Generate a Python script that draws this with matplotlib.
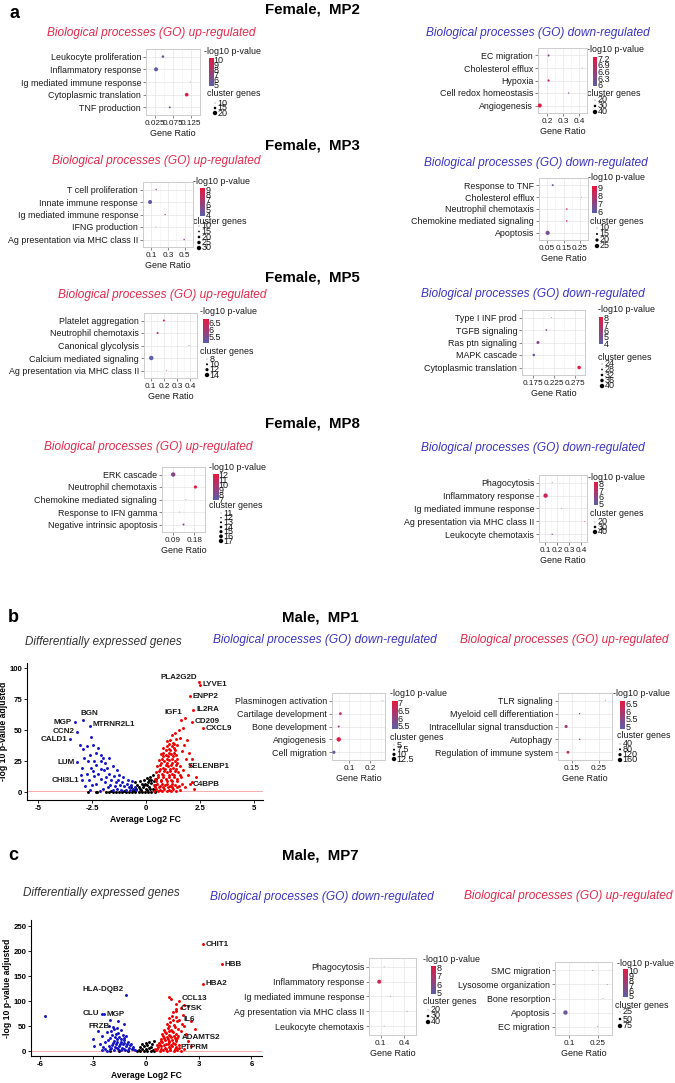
import numpy as np
import matplotlib
matplotlib.use("Agg")
import matplotlib.pyplot as plt
from matplotlib.colors import LinearSegmentedColormap

W, H = 675, 1083
RED_T = "#E3294B"
BLUE_T = "#3A33C2"
CMAP = LinearSegmentedColormap.from_list("pv", ["#5A5FAA", "#E8183F"])

# ---------------- dot plot data (GO enrichment) ----------------
MP2_UP_TERMS = ["Leukocyte proliferation", "Inflammatory response", "Ig mediated immune response",
                "Cytoplasmic translation", "TNF production"]
MP2_UP_RATIO = [0.047, 0.028, 0.123, 0.113, 0.066]
MP2_UP_LOGP = [5.6, 5.0, 6.5, 10.0, 6.0]
MP2_UP_GENES = [15, 19, 10, 18, 13]

MP2_DN_TERMS = ["EC migration", "Cholesterol efflux", "Hypoxia", "Cell redox homeostasis", "Angiogenesis"]
MP2_DN_RATIO = [0.21, 0.42, 0.21, 0.335, 0.155]
MP2_DN_LOGP = [6.3, 6.1, 7.0, 6.3, 7.2]
MP2_DN_GENES = [27, 20, 28, 23, 38]

MP3_UP_TERMS = ["T cell proliferation", "Innate immune response", "Ig mediated immune response",
                "IFNG production", "Ag presentation via MHC class II"]
MP3_UP_RATIO = [0.158, 0.085, 0.266, 0.154, 0.494]
MP3_UP_LOGP = [5.5, 4.2, 8.5, 5.0, 5.5]
MP3_UP_GENES = [14, 28, 13, 10, 14]

MP3_DN_TERMS = ["Response to TNF", "Cholesterol efflux", "Neutrophil chemotaxis",
                "Chemokine mediated signaling", "Apoptosis"]
MP3_DN_RATIO = [0.084, 0.26, 0.17, 0.17, 0.053]
MP3_DN_LOGP = [6.3, 7.0, 9.0, 9.0, 6.5]
MP3_DN_GENES = [15, 10, 13, 13, 24]

MP5_UP_TERMS = ["Platelet aggregation", "Neutrophil chemotaxis", "Canonical glycolysis",
                "Calcium mediated signaling", "Ag presentation via MHC class II"]
MP5_UP_RATIO = [0.20, 0.153, 0.39, 0.105, 0.22]
MP5_UP_LOGP = [6.6, 6.1, 5.8, 5.1, 6.0]
MP5_UP_GENES = [10, 10, 8, 14, 8]

MP5_DN_TERMS = ["Type I INF prod", "TGFB signaling", "Ras ptn signaling", "MAPK cascade",
                "Cytoplasmic translation"]
MP5_DN_RATIO = [0.220, 0.208, 0.188, 0.178, 0.286]
MP5_DN_LOGP = [6.0, 5.5, 5.0, 4.3, 8.0]
MP5_DN_GENES = [24, 28, 34, 32, 36]

MP8_UP_TERMS = ["ERK cascade", "Neutrophil chemotaxis", "Chemokine mediated signaling",
                "Response to IFN gamma", "Negative intrinsic apoptosis"]
MP8_UP_RATIO = [0.092, 0.185, 0.145, 0.118, 0.135]
MP8_UP_LOGP = [8.5, 12.0, 9.0, 8.0, 8.5]
MP8_UP_GENES = [17, 15, 11, 11, 13]

MP8_DN_TERMS = ["Phagocytosis", "Inflammatory response", "Ig mediated immune response",
                "Ag presentation via MHC class II", "Leukocyte chemotaxis"]
MP8_DN_RATIO = [0.16, 0.105, 0.24, 0.43, 0.16]
MP8_DN_LOGP = [6.0, 7.5, 6.5, 8.0, 5.8]
MP8_DN_GENES = [20, 40, 20, 20, 23]

MP1_DN_TERMS = ["Plasminogen activation", "Cartilage development", "Bone development",
                "Angiogenesis", "Cell migration"]
MP1_DN_RATIO = [0.26, 0.058, 0.05, 0.05, 0.027]
MP1_DN_LOGP = [6.0, 6.8, 6.2, 7.0, 5.4]
MP1_DN_GENES = [5, 9, 7.5, 12.5, 10]

MP1_UP_TERMS = ["TLR signaling", "Myeloid cell differentiation", "Intracellular signal transduction",
                "Autophagy", "Regulation of immune system"]
MP1_UP_RATIO = [0.276, 0.18, 0.13, 0.18, 0.137]
MP1_UP_LOGP = [5.5, 6.0, 5.6, 6.5, 6.0]
MP1_UP_GENES = [40, 60, 120, 60, 110]

MP7_DN_TERMS = ["Phagocytosis", "Inflammatory response", "Ig mediated immune response",
                "Ag presentation via MHC class II", "Leukocyte chemotaxis"]
MP7_DN_RATIO = [0.143, 0.081, 0.224, 0.435, 0.143]
MP7_DN_LOGP = [5.5, 7.5, 6.0, 8.0, 5.5]
MP7_DN_GENES = [20, 38, 20, 20, 20]

MP7_UP_TERMS = ["SMC migration", "Lysosome organization", "Bone resorption", "Apoptosis", "EC migration"]
MP7_UP_RATIO = [0.223, 0.30, 0.277, 0.08, 0.25]
MP7_UP_LOGP = [6.0, 10.0, 6.0, 5.5, 6.0]
MP7_UP_GENES = [25, 25, 25, 75, 25]

# ---------------- volcano data ----------------
B_RED = [(0.35, 1), (0.45, 3), (0.55, 1), (0.65, 2), (0.75, 1), (0.85, 3), (0.95, 1), (1.05, 2),
         (1.15, 1), (1.25, 3), (1.4, 1), (1.55, 2), (0.38, 6), (0.5, 7), (0.62, 5), (0.74, 7),
         (0.86, 6), (0.98, 7), (1.1, 5), (1.22, 7), (1.35, 6), (1.5, 5), (1.65, 7), (0.42, 11),
         (0.55, 12), (0.67, 10), (0.8, 12), (0.92, 11), (1.04, 12), (1.16, 10), (1.28, 12),
         (1.42, 11), (1.6, 12), (0.48, 16), (0.6, 17), (0.72, 15), (0.85, 17), (0.97, 16),
         (1.09, 17), (1.21, 15), (1.33, 17), (1.48, 16), (0.52, 21), (0.65, 22), (0.78, 20),
         (0.9, 22), (1.02, 21), (1.14, 22), (1.26, 20), (1.38, 22), (1.55, 21), (0.6, 26),
         (0.72, 27), (0.84, 25), (0.96, 27), (1.08, 26), (1.2, 27), (1.32, 25), (1.45, 27),
         (0.68, 31), (0.8, 32), (0.92, 30), (1.04, 32), (1.16, 31), (1.28, 32), (1.4, 30),
         (0.8, 36), (0.95, 37), (1.07, 35), (1.19, 37), (1.31, 36), (1.45, 38), (0.98, 41),
         (1.12, 42), (1.25, 40), (1.38, 43), (1.2, 46), (1.35, 48), (1.5, 50), (1.6, 58),
         (1.7, 52), (1.55, 44), (1.75, 38), (1.9, 42), (2.0, 32), (1.85, 27), (2.05, 22),
         (1.7, 18), (1.95, 14), (2.1, 8), (1.8, 4), (2.2, 3), (1.65, 33), (2.3, 12),
         (0.4, 4), (0.6, 4), (0.8, 4), (1.0, 4), (1.2, 4), (1.45, 4), (0.45, 9), (0.7, 9),
         (0.95, 9), (1.2, 9), (1.45, 9), (0.55, 14), (0.8, 14), (1.05, 14), (1.3, 14), (1.55, 14),
         (0.62, 19), (0.88, 19), (1.12, 19), (1.4, 19), (0.7, 24), (0.95, 24), (1.2, 24),
         (1.42, 24), (0.78, 29), (1.0, 29), (1.25, 29), (0.9, 34), (1.12, 34), (1.35, 34),
         (1.05, 39), (1.3, 39),
         (2.45, 89), (2.5, 86.7), (2.03, 77.6), (2.18, 66.4), (1.8, 60), (2.12, 57),
         (2.64, 51.6), (2.12, 26.8), (2.04, 6.7)]
B_BLUE = [(-3.05, 38), (-2.9, 35), (-2.75, 37), (-2.6, 30), (-2.45, 38), (-2.3, 32), (-2.2, 36),
          (-2.1, 30), (-2.55, 45), (-2.4, 25), (-2.7, 25), (-2.85, 28), (-2.95, 20), (-2.55, 20),
          (-2.3, 22), (-2.1, 25), (-2.0, 28), (-1.9, 24), (-1.8, 20), (-1.95, 18), (-2.2, 15),
          (-2.4, 13), (-2.65, 10), (-2.8, 5), (-2.5, 6), (-2.3, 7), (-2.1, 11), (-1.85, 12),
          (-1.7, 15), (-1.6, 10), (-1.5, 13), (-1.4, 8), (-1.3, 10), (-1.2, 6), (-1.1, 8),
          (-1.0, 5), (-0.9, 7), (-0.8, 4), (-0.7, 6), (-0.6, 3), (-0.5, 4), (-0.45, 1.5),
          (-1.75, 4), (-1.55, 2), (-1.35, 3), (-1.15, 1.5), (-0.95, 2), (-0.75, 1.5), (-2.0, 3),
          (-2.15, 1), (-1.65, 6), (-1.45, 5), (-2.6, 2), (-1.9, 8), (-2.45, 17), (-2.75, 15),
          (-3.0, 14), (-2.1, 19), (-1.7, 28), (-1.55, 21), (-1.35, 18), (-1.25, 14), (-1.05, 12),
          (-0.85, 10), (-0.65, 9),
          (-2.92, 58.3), (-2.58, 53.5), (-3.3, 56.4), (-3.2, 48.9), (-3.53, 42.7), (-3.17, 24.2),
          (-2.97, 9.9)]
B_NS = [(-2.7, 0.3), (-2.3, 0.5), (-2.25, 0.2), (-1.85, 0.3), (-1.7, 0.5), (-1.55, 0.2),
        (-1.4, 0.6), (-1.25, 0.3), (-1.1, 0.5), (-0.95, 0.2), (-0.8, 0.6), (-0.65, 0.3),
        (-0.5, 0.5), (-0.35, 0.2), (-0.2, 0.6), (-0.05, 0.3), (0.1, 0.5), (0.25, 0.2), (0.4, 0.4),
        (-0.6, 2), (-0.45, 3), (-0.3, 2.5), (-0.15, 4), (0, 3), (0.15, 4.5), (0.3, 3), (-0.4, 5.5),
        (-0.2, 6.5), (-0.05, 7), (0.1, 8), (0.25, 7.5), (0.35, 9), (-0.3, 9), (-0.1, 10),
        (0.05, 11.5), (0.2, 12), (0.3, 14), (0.15, 10), (-0.5, 8), (0.4, 6), (-0.7, 4), (0.45, 11),
        (-0.55, 1.5), (-0.25, 1.5), (0.05, 2), (0.35, 1.5), (-0.1, 5.5), (0.2, 2.5), (0.05, 6),
        (-0.35, 4), (0.25, 10), (0.4, 1.8), (-1.6, 1), (-1.0, 1.2)]
B_GENES = ["PLA2G2D", "LYVE1", "ENPP2", "IL2RA", "IGF1", "CD209", "CXCL9", "SELENBP1", "C4BPB",
           "BGN", "MTRNR2L1", "MGP", "CCN2", "CALD1", "LUM", "CHI3L1"]
B_GENE_X = [2.45, 2.5, 2.03, 2.18, 1.8, 2.12, 2.64, 2.12, 2.04, -2.92, -2.58, -3.3, -3.2, -3.53, -3.17, -2.97]
B_GENE_Y = [89, 86.7, 77.6, 66.4, 60, 57, 51.6, 26.8, 6.7, 58.3, 53.5, 56.4, 48.9, 42.7, 24.2, 9.9]

C_RED = [(0.6, 2), (0.8, 1), (1.0, 3), (1.2, 1), (1.4, 2), (1.6, 1), (1.8, 3), (2.0, 1), (0.7, 8),
         (0.9, 10), (1.1, 7), (1.3, 9), (1.5, 11), (1.7, 8), (1.9, 12), (0.75, 16), (0.95, 18),
         (1.15, 15), (1.35, 19), (1.55, 16), (1.75, 20), (0.85, 25), (1.05, 27), (1.25, 24),
         (1.45, 28), (1.65, 26), (1.85, 30), (0.95, 34), (1.15, 36), (1.35, 33), (1.55, 38),
         (1.75, 35), (2.0, 40), (1.05, 43), (1.25, 46), (1.45, 42), (1.65, 48), (1.85, 45),
         (1.2, 55), (1.4, 58), (1.6, 53), (1.8, 60), (2.05, 55), (1.3, 66), (1.5, 70), (1.7, 68),
         (2.1, 72), (1.55, 78), (1.75, 80), (2.2, 50), (2.3, 35), (2.4, 20), (2.6, 10), (2.2, 5),
         (0.55, 5), (0.65, 12), (1.3, 108), (1.45, 105), (1.7, 95), (2.2, 92), (2.4, 90),
         (2.0, 86), (2.6, 60), (2.8, 45),
         (0.65, 4), (0.9, 5), (1.15, 4), (1.4, 6), (1.65, 4), (1.9, 6), (0.8, 13), (1.05, 12),
         (1.25, 14), (1.45, 13), (1.65, 15), (0.9, 21), (1.1, 22), (1.3, 21), (1.5, 22), (1.7, 23),
         (1.0, 30), (1.2, 29), (1.4, 31), (1.6, 30), (1.1, 39), (1.3, 40), (1.5, 41), (1.35, 50),
         (1.55, 62),
         (3.24, 214), (4.31, 174), (3.24, 135), (1.9, 100), (1.75, 85), (1.9, 63), (1.8, 27), (1.75, 7)]
C_BLUE = [(-0.6, 2), (-0.8, 4), (-1.0, 2), (-1.2, 5), (-1.4, 3), (-1.6, 6), (-1.8, 2), (-2.0, 4),
          (-2.2, 1), (-2.5, 3), (-0.7, 9), (-0.9, 12), (-1.1, 10), (-1.3, 14), (-1.5, 11),
          (-1.7, 15), (-1.9, 12), (-2.1, 10), (-2.4, 8), (-1.0, 18), (-1.2, 22), (-1.4, 19),
          (-1.6, 24), (-1.8, 20), (-2.0, 26), (-2.3, 18), (-2.6, 14), (-1.1, 30), (-1.3, 33),
          (-1.5, 29), (-1.7, 35), (-1.9, 32), (-2.2, 38), (-2.5, 30), (-1.4, 42), (-1.6, 46),
          (-1.8, 44), (-2.1, 50), (-2.7, 40), (-3.0, 25), (-1.2, 55), (-1.55, 60), (-2.0, 62),
          (-2.9, 10), (-5.7, 71),
          (-0.7, 5), (-0.95, 6), (-1.15, 3), (-1.35, 7), (-1.55, 4), (-1.75, 8), (-1.95, 7),
          (-2.3, 5), (-0.85, 15), (-1.05, 14), (-1.25, 17), (-1.45, 15), (-1.65, 19), (-1.85, 16),
          (-2.15, 22), (-1.2, 26), (-1.4, 25), (-1.75, 28), (-1.55, 36), (-1.95, 40),
          (-1.1, 112), (-2.5, 75), (-2.35, 74), (-1.86, 49)]
C_NS = [(-0.5, 0.5), (-0.3, 1), (-0.1, 0.5), (0.1, 1), (0.3, 0.5), (0.5, 1), (-0.4, 3), (-0.2, 5),
        (0, 4), (0.2, 6), (0.4, 3), (-0.3, 8), (-0.1, 10), (0.1, 12), (0.3, 9), (0.0, 16),
        (0.2, 18), (-0.2, 14), (0.35, 14), (-1.5, 0.3), (-1.0, 0.5), (-2.0, 0.3), (0.45, 20)]
C_GENES = ["CHIT1", "HBB", "HBA2", "CCL13", "CTSK", "IL6", "ADAMTS2", "PTPRM",
           "HLA-DQB2", "CLU", "MGP", "FRZB"]
C_GENE_X = [3.24, 4.31, 3.24, 1.9, 1.75, 1.9, 1.8, 1.75, -1.1, -2.5, -2.35, -1.86]
C_GENE_Y = [214, 174, 135, 100, 85, 63, 27, 7, 112, 75, 74, 49]

# label placement (offset points, alignment)
B_LAB_POS = [(-1.5, 3, "right"), (2, 0, "left"), (2, 0, "left"), (2, 0, "left"), (-2, 4, "right"),
             (2, 0, "left"), (2, 0, "left"), (-3, -5, "left"), (2, 0, "left"), (-2, 5, "left"),
             (2, 1, "left"), (-2, 0, "right"), (-2, 0, "right"), (-2, 0, "right"), (-2, 0, "right"),
             (-2, 0, "right")]
C_LAB_POS = [(2, 0, "left"), (2, 0, "left"), (2, 0, "left"), (2, 2, "left"), (3, 0, "left"),
             (3, 0, "left"), (3, 0, "left"), (3, 0, "left"), (-2, 4, "right"), (-2, 0, "right"),
             (2, 0, "left"), (-2, 0, "right")]

plt.rcParams["font.family"] = ["Liberation Sans", "DejaVu Sans"]
fig = plt.figure(figsize=(W / 100, H / 100), dpi=100)

# overlay axes in pixel coordinates for free text and legend keys
ov = fig.add_axes([0, 0, 1, 1])
ov.set_xlim(0, W)
ov.set_ylim(H, 0)
ov.axis("off")


def box(l, t, r, b):
    return [l / W, 1 - b / H, (r - l) / W, (b - t) / H]


def dot_area(g, lo, hi):
    g = np.asarray(g, dtype=float)
    d = 0.8 + 3.6 * np.clip((g - lo) / (hi - lo), 0, 1)
    return (d * 0.72) ** 2


def dotplot(rect, terms, ratio, logp, genes, xlim, xticks, cb_range, cb_ticks, size_ticks,
            title, tcol, tpos, leg):
    l, t, r, b = rect
    ax = fig.add_axes(box(l, t, r, b))
    n = len(terms)
    ypos = np.arange(n)[::-1]
    lo, hi = size_ticks[0], size_ticks[-1]
    ax.scatter(ratio, ypos, s=dot_area(genes, lo, hi), c=logp, cmap=CMAP,
               vmin=cb_range[0], vmax=cb_range[1], linewidths=0, zorder=3)
    ax.set_xlim(*xlim)
    ax.set_ylim(-0.6, n - 0.4)
    ax.set_yticks(ypos, terms)
    ax.set_xticks(xticks, [f"{v:g}" for v in xticks])
    step = xticks[1] - xticks[0]
    minor = np.concatenate([[xticks[0] - step / 2], np.array(xticks) + step / 2])
    ax.set_xticks(minor, minor=True)
    ax.grid(which="major", color="#E6E6E6", lw=0.5)
    ax.grid(which="minor", axis="x", color="#F2F2F2", lw=0.4)
    ax.set_axisbelow(True)
    for s in ax.spines.values():
        s.set_color("#CCCCCC")
        s.set_linewidth(0.7)
    ax.tick_params(which="major", length=2, width=0.5, color="#555555", pad=1.5,
                   labelsize=6.4, labelcolor="#1A1A1A")
    ax.tick_params(axis="x", labelsize=5.9)
    ax.tick_params(which="minor", length=0)
    ax.set_xlabel("Gene Ratio", fontsize=6.5, labelpad=1.5, color="#1A1A1A")
    ov.text(tpos[0], tpos[1], title, color=tcol, fontsize=8.6, style="italic",
            ha="center", va="center")

    # colour bar
    lx, ly, cb, cx, cy, dx, dy0, dy1 = leg
    ov.text(lx, ly, "-log10 p-value", fontsize=6.4, ha="left", va="center", color="#1A1A1A")
    cax = fig.add_axes(box(*cb))
    grad = np.linspace(cb_range[0], cb_range[1], 200).reshape(-1, 1)
    cax.imshow(grad, aspect="auto", cmap=CMAP, origin="lower",
               extent=[0, 1, cb_range[0], cb_range[1]])
    cax.set_xticks([])
    cax.yaxis.tick_right()
    cax.set_yticks(cb_ticks, [f"{v:g}" for v in cb_ticks])
    cax.tick_params(length=0, pad=0.5, labelsize=6.5, labelcolor="#1A1A1A")
    for s in cax.spines.values():
        s.set_visible(False)

    # size legend
    ov.text(cx, cy, "cluster genes", fontsize=6.4, ha="left", va="center", color="#1A1A1A")
    ys = np.linspace(dy0, dy1, len(size_ticks))
    ov.scatter([dx] * len(size_ticks), ys, s=dot_area(size_ticks, lo, hi), c="black", linewidths=0)
    for y, v in zip(ys, size_ticks):
        ov.text(dx + 2.5, y, f"{v:g}", fontsize=6.5, ha="left", va="center", color="#1A1A1A")
    return ax


def volcano(rect, red, blue, ns, genes, gx, gy, lab_pos, xlim, ylim, xticks, yticks):
    ax = fig.add_axes(box(*rect))
    for pts, col in ((ns, "black"), (blue, "#1414C8"), (red, "#F00000")):
        xs, ys = zip(*pts)
        ax.scatter(xs, ys, s=4.5, c=col, linewidths=0, zorder=3)
    ax.axhline(1.3, color="#F4A0A0", lw=0.6, zorder=2)
    for name, x, y, (ddx, ddy, ha) in zip(genes, gx, gy, lab_pos):
        ax.annotate(name, (x, y), xytext=(ddx, ddy), textcoords="offset points",
                    ha=ha, va="center", fontsize=5.8, fontweight="bold", color="#1A1A1A")
    ax.set_xlim(*xlim)
    ax.set_ylim(*ylim)
    ax.set_xticks(xticks, [f"{v:g}" for v in xticks])
    ax.set_yticks(yticks)
    for s in ("top", "right"):
        ax.spines[s].set_visible(False)
    for s in ("left", "bottom"):
        ax.spines[s].set_linewidth(0.8)
    ax.tick_params(length=2.2, width=0.6, labelsize=5.6, pad=1.2)
    for lab in ax.get_xticklabels() + ax.get_yticklabels():
        lab.set_fontweight("bold")
    ax.set_xlabel("Average Log2 FC", fontsize=6.2, fontweight="bold", labelpad=2)
    ax.set_ylabel("-log 10 p-value adjusted", fontsize=6.2, fontweight="bold", labelpad=1)
    return ax


# ---------------- panel a ----------------
ov.text(10, 13, "a", fontsize=13, fontweight="bold", ha="left", va="center")
for y, s in ((10, "Female,  MP2"), (145, "Female,  MP3"), (277, "Female,  MP5"), (423, "Female,  MP8")):
    ov.text(312, y, s, fontsize=10.8, fontweight="bold", ha="center", va="center")

dotplot((146, 49, 200, 115), MP2_UP_TERMS, MP2_UP_RATIO, MP2_UP_LOGP, MP2_UP_GENES,
        (0.022, 0.128), [0.025, 0.075, 0.125], (4.8, 10.2), [10, 9, 8, 7, 6, 5], [10, 15, 20],
        "Biological processes (GO) up-regulated", RED_T, (151, 33),
        (204, 52, (209, 58, 213, 86), 207, 94, 215, 103, 113))
dotplot((538, 48, 587, 113), MP2_DN_TERMS, MP2_DN_RATIO, MP2_DN_LOGP, MP2_DN_GENES,
        (0.144, 0.45), [0.2, 0.3, 0.4], (5.95, 7.25), [7.2, 6.9, 6.6, 6.3, 6], [20, 30, 40],
        "Biological processes (GO) down-regulated", BLUE_T, (538, 33),
        (587, 50, (593, 57, 597, 86), 587, 93, 595, 100, 112))

dotplot((143, 182, 193, 247), MP3_UP_TERMS, MP3_UP_RATIO, MP3_UP_LOGP, MP3_UP_GENES,
        (0.064, 0.545), [0.1, 0.3, 0.5], (3.8, 9.2), [9, 8, 7, 6, 5, 4], [10, 15, 20, 25, 30],
        "Biological processes (GO) up-regulated", RED_T, (156, 161),
        (193, 182, (200, 188, 205, 216), 193, 222, 199, 226, 248))
dotplot((539, 178, 588, 240), MP3_DN_TERMS, MP3_DN_RATIO, MP3_DN_LOGP, MP3_DN_GENES,
        (0.040, 0.279), [0.05, 0.15, 0.25], (5.8, 9.2), [9, 8, 7, 6], [10, 15, 20, 25],
        "Biological processes (GO) down-regulated", BLUE_T, (536, 163),
        (588, 178, (592, 186, 597, 213), 590, 222, 597, 228, 246))

dotplot((144, 313, 197, 378), MP5_UP_TERMS, MP5_UP_RATIO, MP5_UP_LOGP, MP5_UP_GENES,
        (0.094, 0.412), [0.1, 0.2, 0.3, 0.4], (5.05, 6.75), [6.5, 6, 5.5], [8, 10, 12, 14],
        "Biological processes (GO) up-regulated", RED_T, (162, 295),
        (200, 312, (203, 319, 208, 343), 200, 351, 207, 359, 375))
dotplot((522, 310, 585, 375), MP5_DN_TERMS, MP5_DN_RATIO, MP5_DN_LOGP, MP5_DN_GENES,
        (0.173, 0.291), [0.175, 0.225, 0.275], (3.9, 8.1), [8, 7, 6, 5, 4], [24, 28, 32, 36, 40],
        "Biological processes (GO) down-regulated", BLUE_T, (533, 294),
        (598, 310, (599, 317, 603, 344), 598, 357, 602, 364, 386))

dotplot((162, 467, 205, 532), MP8_UP_TERMS, MP8_UP_RATIO, MP8_UP_LOGP, MP8_UP_GENES,
        (0.0884, 0.1876), [0.09, 0.18], (6.8, 12.2), [12, 11, 10, 9, 8, 7],
        [11, 12, 13, 14, 15, 16, 17],
        "Biological processes (GO) up-regulated", RED_T, (148, 447),
        (209, 467, (213, 474, 218, 500), 209, 506, 221, 513, 541))
dotplot((539, 475, 587, 542), MP8_DN_TERMS, MP8_DN_RATIO, MP8_DN_LOGP, MP8_DN_GENES,
        (0.093, 0.444), [0.1, 0.2, 0.3, 0.4], (4.8, 8.2), [8, 7, 6, 5], [20, 30, 40],
        "Biological processes (GO) down-regulated", BLUE_T, (533, 448),
        (588, 477, (594, 482, 598, 505), 590, 513, 595, 522, 532))

# ---------------- panel b ----------------
ov.text(8, 617, "b", fontsize=13, fontweight="bold", ha="left", va="center")
ov.text(320, 617, "Male,  MP1", fontsize=10.8, fontweight="bold", ha="center", va="center")
ov.text(25, 642, "Differentially expressed genes", fontsize=8.4, style="italic",
        color="#333333", ha="left", va="center")
volcano((27, 663, 263, 800), B_RED, B_BLUE, B_NS, B_GENES, B_GENE_X, B_GENE_Y, B_LAB_POS,
        (-5.5, 5.4), (-6.2, 104.3), [-5, -2.5, 0, 2.5, 5], [0, 25, 50, 75, 100])
dotplot((332, 693, 385, 760), MP1_DN_TERMS, MP1_DN_RATIO, MP1_DN_LOGP, MP1_DN_GENES,
        (0.018, 0.27), [0.1, 0.2], (5.3, 7.1), [7, 6.5, 6, 5.5], [5, 7.5, 10, 12.5],
        "Biological processes (GO) down-regulated", BLUE_T, (325, 640),
        (390, 694, (392, 701, 397, 729), 390, 738, 394, 745, 759))
dotplot((558, 693, 612, 760), MP1_UP_TERMS, MP1_UP_RATIO, MP1_UP_LOGP, MP1_UP_GENES,
        (0.12, 0.282), [0.15, 0.25], (4.8, 6.7), [6.5, 6, 5.5, 5], [40, 80, 120, 160],
        "Biological processes (GO) up-regulated", RED_T, (564, 640),
        (613, 694, (620, 701, 625, 729), 617, 736, 620, 744, 760))

# ---------------- panel c ----------------
ov.text(8, 856, "c", fontsize=13, fontweight="bold", ha="left", va="center")
ov.text(320, 856, "Male,  MP7", fontsize=10.8, fontweight="bold", ha="center", va="center")
ov.text(23, 893, "Differentially expressed genes", fontsize=8.4, style="italic",
        color="#333333", ha="left", va="center")
volcano((31, 920, 262, 1056), C_RED, C_BLUE, C_NS, C_GENES, C_GENE_X, C_GENE_Y, C_LAB_POS,
        (-6.5, 6.6), (-9, 262), [-6, -3, 0, 3, 6], [0, 50, 100, 150, 200, 250])
dotplot((369, 958, 416, 1035), MP7_DN_TERMS, MP7_DN_RATIO, MP7_DN_LOGP, MP7_DN_GENES,
        (0.067, 0.45), [0.1, 0.4], (4.8, 8.2), [8, 7, 6, 5], [20, 30, 40],
        "Biological processes (GO) down-regulated", BLUE_T, (322, 897),
        (423, 959, (431, 966, 436, 994), 423, 1002, 428, 1010, 1022))
dotplot((555, 962, 612, 1035), MP7_UP_TERMS, MP7_UP_RATIO, MP7_UP_LOGP, MP7_UP_GENES,
        (0.066, 0.31), [0.1, 0.25], (4.8, 10.2), [10, 9, 8, 7, 6, 5], [25, 50, 75],
        "Biological processes (GO) up-regulated", RED_T, (568, 896),
        (617, 963, (623, 969, 628, 997), 615, 1005, 620, 1012, 1026))

fig.savefig("out.png", dpi=100)
